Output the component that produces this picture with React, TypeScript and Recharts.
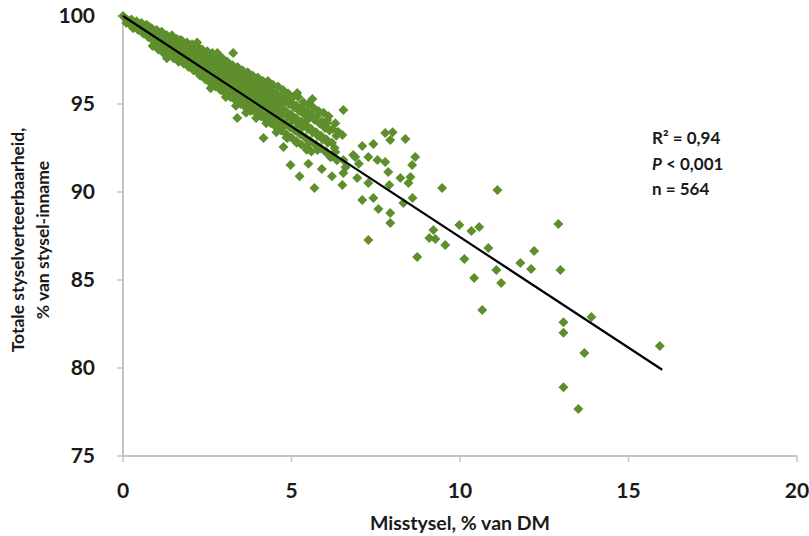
import { ScatterChart, Scatter, XAxis, YAxis } from "recharts"

// as-indeling
const xTicks = [0, 5, 10, 15, 20]
const yTicks = [75, 80, 85, 90, 95, 100]

// dichte band langs de regressielijn (misstysel %, verteerbaarheid %)
const kern: [number, number][] = [
  [0, 100], [0.05, 99.9], [0.12, 99.8], [0.1, 99.6], [0.25, 99.8], [0.22, 99.5], [0.3, 99.3],
  [0.4, 99.7], [0.38, 99.4], [0.45, 99.2], [0.55, 99.6], [0.52, 99.3], [0.6, 99.0],
  [0.7, 99.5], [0.68, 99.1], [0.75, 98.8], [0.85, 99.3], [0.82, 99.0], [0.9, 98.6], [0.88, 98.3],
  [1.0, 99.2], [1.03, 98.9], [0.98, 98.5], [1.05, 98.1],
  [1.15, 99.1], [1.18, 98.7], [1.12, 98.3], [1.2, 97.9],
  [1.3, 98.9], [1.33, 98.6], [1.28, 98.2], [1.35, 97.8],
  [1.45, 98.9], [1.48, 98.4], [1.42, 98.0], [1.5, 97.6],
  [1.6, 98.7], [1.63, 98.3], [1.58, 97.9], [1.65, 97.4],
  [1.75, 98.6], [1.78, 98.2], [1.73, 97.7], [1.8, 97.3],
  [1.9, 98.5], [1.93, 98.0], [1.88, 97.6], [1.95, 97.1],
  [2.05, 98.4], [2.08, 97.9], [2.03, 97.4], [2.1, 96.9],
  [2.2, 98.3], [2.24, 97.8], [2.17, 97.3], [2.22, 96.8],
  [2.35, 98.1], [2.38, 97.6], [2.33, 97.2], [2.4, 96.7],
  [2.5, 98.0], [2.53, 97.5], [2.48, 97.0], [2.55, 96.5],
  [2.65, 97.9], [2.68, 97.4], [2.62, 96.8], [2.7, 96.3],
  [2.8, 97.8], [2.83, 97.2], [2.78, 96.6], [2.85, 96.1],
  [2.95, 97.6], [2.98, 97.0], [2.92, 96.5], [3.0, 95.9],
  [3.1, 97.4], [3.13, 96.9], [3.08, 96.3], [3.15, 95.8], [3.05, 95.4],
  [3.25, 97.2], [3.28, 96.7], [3.22, 96.1], [3.3, 95.6],
  [3.4, 97.1], [3.43, 96.6], [3.38, 96.0], [3.45, 95.4], [3.35, 94.9],
  [3.55, 96.9], [3.58, 96.4], [3.52, 95.8], [3.6, 95.2],
  [3.7, 96.8], [3.73, 96.2], [3.68, 95.6], [3.75, 95.0], [3.65, 94.5],
  [3.85, 96.6], [3.88, 96.0], [3.82, 95.5], [3.9, 94.9],
  [4.0, 96.5], [4.03, 95.9], [3.98, 95.3], [4.05, 94.7], [3.95, 94.2],
  [4.15, 96.3], [4.18, 95.8], [4.12, 95.1], [4.2, 94.5],
  [4.3, 96.3], [4.33, 95.6], [4.28, 95.0], [4.35, 94.4], [4.25, 93.9],
  [4.45, 96.1], [4.48, 95.4], [4.42, 94.8], [4.5, 94.2],
  [4.6, 96.0], [4.63, 95.3], [4.58, 94.6], [4.65, 94.0], [4.55, 93.4],
  [4.75, 95.8], [4.78, 95.1], [4.72, 94.4], [4.8, 93.8],
  [4.9, 95.6], [4.93, 95.0], [4.88, 94.3], [4.95, 93.7], [4.85, 93.1],
  [5.05, 95.4], [5.08, 94.8], [5.02, 94.1], [5.1, 93.5],
  [5.2, 95.4], [5.23, 94.6], [5.18, 93.9], [5.25, 93.3], [5.15, 92.8],
  [5.35, 95.1], [5.38, 94.4], [5.32, 93.7], [5.4, 93.1],
  [5.5, 95.0], [5.53, 94.3], [5.48, 93.6], [5.55, 92.9], [5.45, 92.4],
  [5.65, 94.8], [5.68, 94.1], [5.62, 93.4], [5.7, 92.7],
  [5.8, 94.6], [5.83, 93.9], [5.78, 93.2], [5.85, 92.5],
  [5.95, 94.5], [5.98, 93.7], [5.92, 93.0], [6.0, 92.3],
  [6.1, 94.3], [6.13, 93.5], [6.08, 92.8], [6.15, 92.1],
  [6.3, 93.9], [6.33, 93.2], [6.28, 92.5], [6.35, 91.8],
]

// tussenliggende punten in de band (vullen de gaten tussen de rijen)
const kernTussen: [number, number][] = [
  [0.18, 99.7], [0.32, 99.55], [0.48, 99.45], [0.62, 99.25], [0.63, 99.45], [0.78, 99.1], [0.77, 99.4],
  [0.93, 98.8], [0.92, 99.1], [0.95, 98.45], [1.08, 98.7], [1.1, 99.05], [1.07, 98.3],
  [1.22, 98.5], [1.24, 98.9], [1.25, 98.1], [1.38, 98.4], [1.4, 98.75], [1.37, 97.95],
  [1.55, 98.15], [1.53, 98.6], [1.52, 97.75], [1.68, 98.0], [1.7, 98.45], [1.67, 97.55],
  [1.83, 97.9], [1.85, 98.35], [1.82, 97.45], [1.98, 97.7], [2.0, 98.2], [1.97, 97.3],
  [2.13, 97.6], [2.15, 98.1], [2.12, 97.1], [2.28, 97.5], [2.3, 98.0], [2.27, 97.0], [2.29, 96.6],
  [2.43, 97.4], [2.45, 97.9], [2.42, 96.9], [2.44, 96.4], [2.58, 97.2], [2.6, 97.7], [2.57, 96.7], [2.59, 96.2],
  [2.73, 97.1], [2.75, 97.6], [2.72, 96.5], [2.74, 96.0], [2.88, 96.9], [2.9, 97.4], [2.87, 96.3], [2.89, 95.8],
  [3.03, 96.7], [3.05, 97.2], [3.02, 96.1], [3.04, 95.6], [3.18, 96.6], [3.2, 97.1], [3.17, 96.0], [3.19, 95.4],
  [3.33, 96.4], [3.35, 96.9], [3.32, 95.8], [3.34, 95.2], [3.48, 96.2], [3.5, 96.7], [3.47, 95.6], [3.49, 95.0],
  [3.63, 96.1], [3.65, 96.6], [3.62, 95.4], [3.64, 94.8], [3.78, 95.9], [3.8, 96.4], [3.77, 95.3], [3.79, 94.6],
  [3.93, 95.7], [3.95, 96.3], [3.92, 95.1], [3.94, 94.5], [4.08, 95.6], [4.1, 96.1], [4.07, 94.9], [4.09, 94.3],
  [4.23, 95.4], [4.25, 96.0], [4.22, 94.7], [4.24, 94.1], [4.38, 95.2], [4.4, 95.8], [4.37, 94.5], [4.39, 93.9],
  [4.53, 95.0], [4.55, 95.6], [4.52, 94.3], [4.54, 93.7], [4.68, 94.8], [4.7, 95.5], [4.67, 94.1], [4.69, 93.5],
  [4.83, 94.6], [4.85, 95.3], [4.82, 93.9], [4.84, 93.3], [4.98, 94.4], [5.0, 95.1], [4.97, 93.7], [4.99, 93.1],
  [5.13, 94.2], [5.15, 94.9], [5.12, 93.5], [5.14, 92.9], [5.28, 94.0], [5.3, 94.8], [5.27, 93.3], [5.29, 92.7],
  [5.43, 93.8], [5.45, 94.6], [5.42, 93.1], [5.44, 92.6], [5.58, 93.6], [5.6, 94.4], [5.57, 92.9], [5.59, 92.3],
  [5.73, 93.4], [5.75, 94.3], [5.72, 92.7], [5.88, 93.2], [5.9, 94.0], [5.87, 92.5],
  [6.03, 93.0], [6.05, 93.9], [6.02, 92.3], [6.2, 92.8], [6.22, 93.6], [6.18, 92.0],
]

// losse punten buiten de band
const verspreid: [number, number][] = [
  [1.71, 98.64], [2.2, 98.5], [2.8, 97.9], [3.27, 97.9], [3.07, 97.4], [3.39, 94.2], [2.6, 95.9], [1.3, 97.6],
  [4.17, 93.07], [4.76, 92.56], [4.88, 93.07], [4.97, 91.53], [5.24, 90.9], [5.68, 90.23], [5.47, 92.5], [5.77, 92.39],
  [5.17, 95.63], [5.62, 95.28], [6.54, 94.66], [6.06, 94.09], [6.39, 93.41], [6.0, 93.64], [5.47, 94.09],
  [6.89, 91.99], [6.3, 92.27], [6.15, 91.99], [5.9, 91.3], [6.2, 90.9], [5.5, 91.6], [6.6, 91.4], [7.0, 91.6],
  [6.51, 93.24], [7.78, 93.35], [7.93, 92.95], [8.38, 93.01], [8.0, 93.4], [7.1, 92.61], [7.43, 92.73], [6.83, 92.1],
  [7.28, 91.99], [7.55, 91.82], [7.78, 91.7], [8.67, 91.99], [8.58, 91.53], [6.54, 91.82], [6.54, 91.08],
  [6.95, 90.8], [7.87, 91.14], [8.23, 90.8], [8.53, 90.85], [7.28, 90.51], [7.9, 90.4], [6.51, 90.4],
  [7.1, 89.55], [7.43, 89.66], [7.58, 89.03], [7.93, 88.81], [7.93, 88.24], [7.28, 87.27],
  [8.47, 90.51], [8.59, 89.66], [8.32, 89.38], [9.21, 87.84], [9.09, 87.39], [9.27, 87.33], [8.73, 86.31],
  [9.47, 90.23], [11.11, 90.11], [9.98, 88.13], [10.34, 87.78], [10.57, 88.01], [9.56, 86.99],
  [10.84, 86.82], [10.13, 86.19], [12.2, 86.65], [11.79, 85.97], [12.11, 85.63], [11.08, 85.57],
  [10.42, 85.11], [11.22, 84.83], [10.66, 83.3],
  [12.92, 88.18], [12.98, 85.57], [13.9, 82.9], [13.07, 82.6], [13.07, 82.0], [13.69, 80.85],
  [15.93, 81.25], [13.07, 78.9], [13.51, 77.67],
]

// regressielijn
const trendlijn = [{ x: 0, y: 100 }, { x: 16, y: 79.9 }]

const punten = [...kern, ...kernTussen, ...verspreid].map(([x, y]) => ({ x, y }))

const groen = "#5f8f2d"
const tekst = "#1a1a1a"

const Ruit = (props: any) => {
  const { cx, cy } = props
  const r = 5
  return (
    <polygon
      points={`${cx},${cy - r} ${cx + r},${cy} ${cx},${cy + r} ${cx - r},${cy}`}
      fill={groen}
    />
  )
}

const Leeg = () => <g />

const tickStijl = { fill: tekst, fontSize: 21, fontWeight: 700, fontFamily: "Lato" }

export default function App() {
  return (
    <div style={{ position: "absolute", left: 0, top: 0, width: 809, height: 536, background: "#fff", fontFamily: "Lato", color: tekst }}>
      <ScatterChart width={809} height={536} margin={{ top: 16, right: 12, bottom: 0, left: 0 }}>
        <XAxis
          type="number"
          dataKey="x"
          domain={[0, 20]}
          ticks={xTicks}
          interval={0}
          height={80}
          tickSize={6}
          tickMargin={21}
          axisLine={{ stroke: "#c4c4c4", strokeWidth: 2 }}
          tickLine={{ stroke: "#c4c4c4", strokeWidth: 1.5 }}
          tick={tickStijl}
        />
        <YAxis
          type="number"
          dataKey="y"
          domain={[75, 100]}
          ticks={yTicks}
          interval={0}
          width={123}
          tickSize={6}
          tickMargin={22}
          axisLine={{ stroke: "#c4c4c4", strokeWidth: 2 }}
          tickLine={{ stroke: "#c4c4c4", strokeWidth: 1.5 }}
          tick={tickStijl}
        />
        <Scatter data={punten} shape={Ruit} isAnimationActive={false} />
        <Scatter data={trendlijn} shape={Leeg} line={{ stroke: "#000", strokeWidth: 2.2 }} isAnimationActive={false} />
      </ScatterChart>

      <div style={{ position: "absolute", left: 460, top: 522, transform: "translate(-50%, -50%)", fontSize: 19.5, fontWeight: 700, whiteSpace: "nowrap" }}>
        Misstysel, % van DM
      </div>

      <div style={{ position: "absolute", left: 30, top: 240, transform: "translate(-50%, -50%) rotate(-90deg)", fontSize: 17.5, fontWeight: 700, whiteSpace: "nowrap", textAlign: "center", lineHeight: "25px" }}>
        Totale styselverteerbaarheid,
        <br />
        % van stysel-inname
      </div>

      <div style={{ position: "absolute", left: 652, top: 125, fontSize: 17, fontWeight: 700, lineHeight: "25.5px", whiteSpace: "nowrap" }}>
        <div>R² = 0,94</div>
        <div><i>P</i> &lt; 0,001</div>
        <div>n = 564</div>
      </div>
    </div>
  )
}
